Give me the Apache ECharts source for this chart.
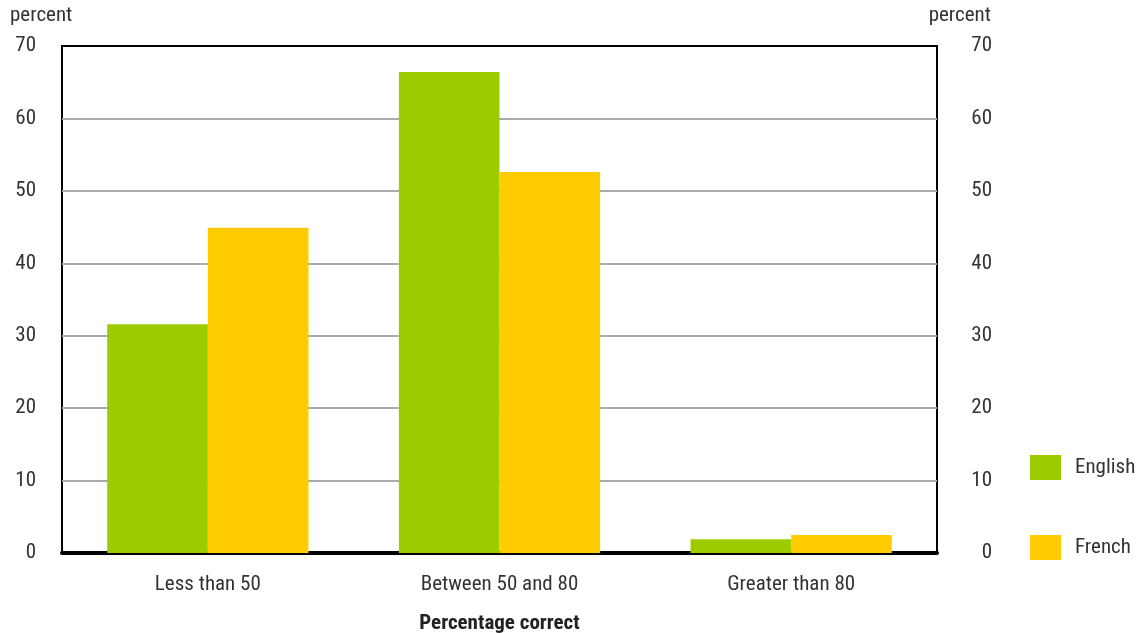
<!DOCTYPE html>
<html><head><meta charset="utf-8">
<script src="https://cdn.jsdelivr.net/npm/echarts@6/dist/echarts.min.js"></script>
<style>html,body{margin:0;padding:0;background:#fff}#c{width:1141px;height:633px}</style>
</head><body><div id="c"></div>
<script>
const categories = ['Less than 50', 'Between 50 and 80', 'Greater than 80'];
const english = [31.6, 66.4, 1.9];
const french = [44.9, 52.6, 2.5];
const yTicks = [0, 10, 20, 30, 40, 50, 60, 70];
const FONT = '"Liberation Sans Narrow", "Roboto Condensed", Roboto, sans-serif';
const FS = 21;
const chart = echarts.init(document.getElementById('c'));
const yAxisBase = {
  type: 'value', min: yTicks[0], max: yTicks[yTicks.length - 1], interval: 10,
  axisLine: { show: false }, axisTick: { show: false },
  axisLabel: { color: '#333', fontSize: FS, fontFamily: FONT, margin: 26, align: 'right' }
};
chart.setOption({
  animation: false,
  textStyle: { fontFamily: FONT },
  grid: { left: 62, right: 204, top: 46, bottom: 80, show: true, borderColor: '#000', borderWidth: 2, containLabel: false, outerBoundsMode: 'none' },
  legend: {
    orient: 'vertical', left: 1025, top: 450, itemWidth: 31, itemHeight: 25, itemGap: 55, icon: 'rect',
    textStyle: { color: '#333', fontSize: FS, fontFamily: FONT, padding: [0, 0, 0, 9] },
    data: ['English', 'French']
  },
  graphic: [
    { type: 'text', left: 10, top: 5, style: { text: 'percent', fontSize: FS, fontFamily: FONT, fill: '#333' } },
    { type: 'text', right: 150, top: 5, style: { text: 'percent', fontSize: FS, fontFamily: FONT, fill: '#333' } }
  ],
  xAxis: [{
    type: 'category', data: categories, position: 'bottom',
    axisLine: { lineStyle: { color: '#000', width: 4 } }, axisTick: { show: false },
    axisLabel: { color: '#333', fontSize: FS, fontFamily: FONT, margin: 21 },
    name: 'Percentage correct', nameLocation: 'middle', nameGap: 60,
    nameTextStyle: { color: '#222', fontSize: FS, fontWeight: 'bold', fontFamily: FONT }
  }, {
    type: 'category', data: categories, position: 'top',
    axisLine: { onZero: false, lineStyle: { color: '#000', width: 2 } }, axisTick: { show: false },
    axisLabel: { show: false }
  }],
  yAxis: [
    Object.assign({}, yAxisBase, {
      position: 'left',
      splitLine: { lineStyle: { color: '#aaa', width: 2 } }
    }),
    Object.assign({}, yAxisBase, {
      position: 'right', splitLine: { show: false },
      axisLabel: Object.assign({}, yAxisBase.axisLabel, { margin: 55 })
    })
  ],
  series: [
    { name: 'English', type: 'bar', data: english, itemStyle: { color: '#9ccc00' }, barGap: '0%', barCategoryGap: '31%' },
    { name: 'French', type: 'bar', data: french, itemStyle: { color: '#ffcc00' } }
  ]
});
</script></body></html>
